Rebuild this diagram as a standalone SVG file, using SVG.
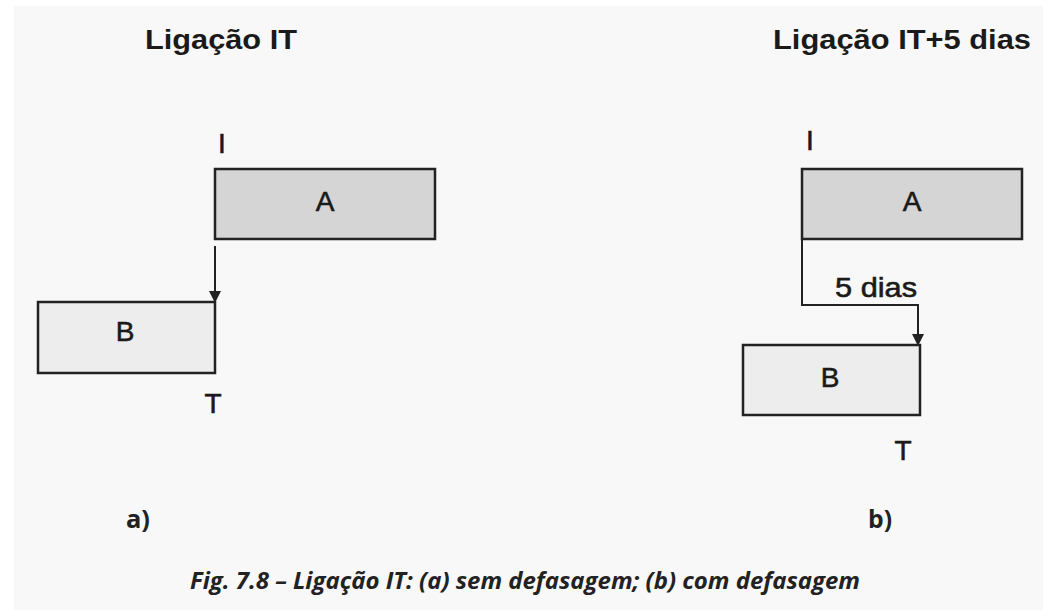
<svg xmlns="http://www.w3.org/2000/svg" width="1043" height="610" viewBox="0 0 1043 610">
<defs>
<style>
.t{font-family:"Liberation Sans",Arial,sans-serif;fill:#1a1a1a}
.title{font-size:28px;font-weight:bold}
.lbl{font-size:28px;stroke:#1a1a1a;stroke-width:0.6}
.boxA{fill:#d5d5d5;stroke:#222;stroke-width:2.5}
.boxB{fill:#ededed;stroke:#222;stroke-width:2.5}
.conn{fill:none;stroke:#222;stroke-width:2}
.cap{font-family:"Open Sans","Liberation Sans",sans-serif;font-weight:bold;fill:#222}
</style>
<marker id="arr" markerWidth="12" markerHeight="12" refX="11" refY="6" orient="auto" markerUnits="userSpaceOnUse">
<path d="M0,0 L12,6 L0,12 Z" fill="#222"/>
</marker>
</defs>
<rect x="0" y="0" width="1043" height="610" fill="#ffffff"/>
<rect x="14" y="6" width="1029" height="604" fill="#f8f8f8"/>

<text class="t title" x="221" y="49" text-anchor="middle" textLength="152" lengthAdjust="spacingAndGlyphs">Ligação IT</text>
<text class="t title" x="902" y="49" text-anchor="middle" textLength="258" lengthAdjust="spacingAndGlyphs">Ligação IT+5 dias</text>

<g id="a-A">
<rect class="boxA" x="215" y="169" width="220" height="70"/>
<text class="t lbl" x="325" y="211" text-anchor="middle">A</text>
<text class="t lbl" x="222" y="153" text-anchor="middle">I</text>
</g>
<g id="a-B">
<rect class="boxB" x="38" y="302" width="177" height="71"/>
<text class="t lbl" x="125" y="341" text-anchor="middle">B</text>
<text class="t lbl" x="213" y="413" text-anchor="middle">T</text>
</g>
<g id="b-A">
<rect class="boxA" x="802" y="169" width="220" height="70"/>
<text class="t lbl" x="912" y="211" text-anchor="middle">A</text>
<text class="t lbl" x="810" y="150" text-anchor="middle">I</text>
</g>
<g id="b-B">
<rect class="boxB" x="743" y="345" width="177" height="70"/>
<text class="t lbl" x="830" y="387" text-anchor="middle">B</text>
<text class="t lbl" x="903" y="460" text-anchor="middle">T</text>
</g>

<g id="connectors">
<path class="conn" d="M215,246 L215,302" marker-end="url(#arr)"/>
<path class="conn" d="M802,239 L802,305 L918,305 L918,345" marker-end="url(#arr)"/>
<text class="t lbl" x="876" y="297" text-anchor="middle" textLength="82" lengthAdjust="spacingAndGlyphs">5 dias</text>
</g>

<text class="cap" x="138" y="528" text-anchor="middle" font-size="25" textLength="24" lengthAdjust="spacingAndGlyphs">a)</text>
<text class="cap" x="880" y="528" text-anchor="middle" font-size="25" textLength="24" lengthAdjust="spacingAndGlyphs">b)</text>
<text class="cap" x="525" y="589" text-anchor="middle" font-size="24" font-style="italic" textLength="670" lengthAdjust="spacingAndGlyphs">Fig. 7.8 – Ligação IT: (a) sem defasagem; (b) com defasagem</text>
</svg>
